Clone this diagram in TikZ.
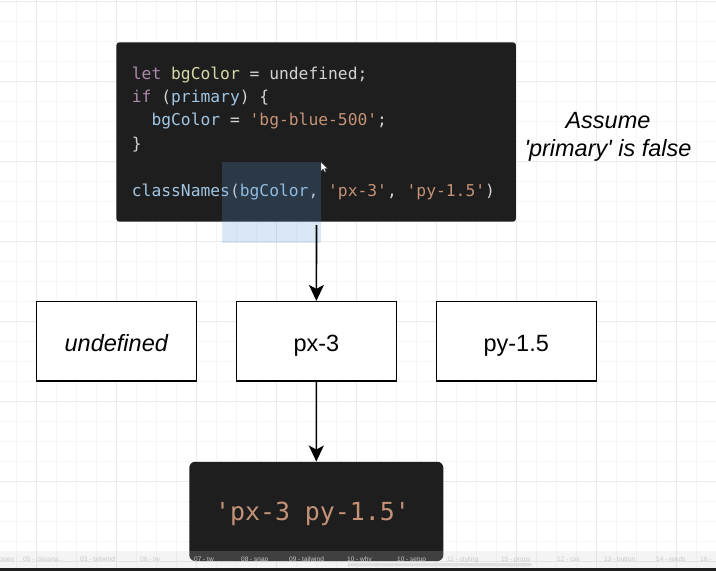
\documentclass[tikz,border=0pt]{standalone}
\usepackage{fontspec}
\setmainfont{Liberation Sans}
\newfontfamily\codefont{DejaVu Sans Mono}
\newfontfamily\lblfont{Liberation Sans}
\usetikzlibrary{arrows.meta}

\definecolor{codebg}{RGB}{30,30,30}
\definecolor{kwcol}{RGB}{172,138,172}
\definecolor{yelcol}{RGB}{215,215,168}
\definecolor{txtcol}{RGB}{210,210,210}
\definecolor{varcol}{RGB}{160,198,228}
\definecolor{strcol}{RGB}{196,146,118}
\definecolor{selcol}{RGB}{90,150,210}
\definecolor{gridminor}{RGB}{246,246,246}
\definecolor{gridmajor}{RGB}{234,234,234}
\definecolor{tabcol}{RGB}{200,200,200}
\definecolor{tabtxt}{RGB}{200,200,200}

\tikzset{
  codebox/.style={fill=codebg, rounded corners=3pt, inner sep=0pt},
  codeline/.style={anchor=base west, inner sep=0pt, text=txtcol,
    font=\codefont\fontsize{16.3}{20}\selectfont},
  valbox/.style={draw=black, line width=1.3pt, fill=white, minimum width=160pt,
    minimum height=79.5pt, inner sep=0pt, text height=24pt, text depth=3pt,
    font=\lblfont\fontsize{23.5}{28}\selectfont},
  resbox/.style={fill=codebg, rounded corners=6pt, minimum width=254pt,
    minimum height=99.3pt, inner sep=0pt, text=strcol, text height=22pt, text depth=3.4pt,
    font=\codefont\fontsize{24.9}{30}\selectfont},
  arr/.style={line width=1.6pt, -{Stealth[length=16pt,width=15pt,inset=4pt]}},
  note/.style={align=center, inner sep=0pt,
    font=\lblfont\itshape\fontsize{23.5}{28}\selectfont},
  tablbl/.style={anchor=base west, inner sep=0pt, text=tabtxt,
    font=\lblfont\fontsize{6.5}{8}\selectfont},
}

\begin{document}
\begin{tikzpicture}[x=1pt,y=-1pt]
\useasboundingbox (0,0) rectangle (716,571);
\fill[white] (0,0) rectangle (716,571);
% grid
\foreach \x in {16.7,36.7,...,716} \draw[gridminor, line width=0.6pt] (\x,0) -- (\x,571);
\foreach \y in {1.7,21.7,...,571} \draw[gridminor, line width=0.6pt] (0,\y) -- (716,\y);
\foreach \x in {36.7,116.7,...,716} \draw[gridmajor, line width=0.6pt] (\x,0) -- (\x,571);
\foreach \y in {1.7,81.7,...,571} \draw[gridmajor, line width=0.6pt] (0,\y) -- (716,\y);

% code block
\node[codebox, minimum width=399.5pt, minimum height=179.4pt] (code) at (316.2,132) {};
\node[codeline] (l1) at (131.7,79) {{\color{kwcol}let} {\color{yelcol}bgColor} = undefined;};
\node[codeline] (l2) at (131.7,102.4) {{\color{kwcol}if} ({\color{varcol}primary}) \{};
\node[codeline] (l3) at (151.3,125.8) {{\color{varcol}bgColor} = {\color{strcol}'bg-blue-500'};};
\node[codeline] (l4) at (131.7,149.2) {\}};
\node[codeline] (l6) at (131.7,196) {{\color{varcol}classNames}({\color{varcol}bgColor}, {\color{strcol}'px-3'}, {\color{strcol}'py-1.5'})};

% selection highlight
\fill[selcol, fill opacity=0.22] (222.3,162.3) rectangle (321,243.3);
% cursor
\draw[fill=white, draw=black!70, line width=0.4pt]
  (321,162) -- (321,171) -- (323.2,169) -- (324.8,172.2) -- (326,171.6)
  -- (324.6,168.6) -- (327.4,168.4) -- cycle;

% note
\node[note] (note) at (608,136.8) {Assume\\'primary' is false};

% value boxes
\node[valbox] (undef) at (116.3,341.3) {\itshape undefined};
\node[valbox] (px) at (316.4,341.3) {px-3};
\node[valbox] (py) at (516.2,341.3) {py-1.5};

% result box
\node[resbox] (res) at (316.3,511.4) {'px-3 py-1.5'\hspace*{7.6pt}};

% connectors
\coordinate (a1) at (316.5,225);
\draw[arr] (a1) -- (px.north);
\draw[arr] (px.south) -- (res.north);

% tab bar
\fill[tabcol, fill opacity=0.2] (0,551) rectangle (716,567.5);
\fill[black!88] (0,568) rectangle (716,571);
\fill[black!12, rounded corners=1.5pt] (347,563.2) rectangle (532,566.4);
\node[tablbl] (t0) at (0.5,561) {sses};
\node[tablbl] (t1) at (23,561) {05 - classna...};
\node[tablbl] (t2) at (80,561) {03 - tailwind};
\node[tablbl] (t3) at (140,561) {06 - tw};
\node[tablbl] (t4) at (194,561) {07 - tw};
\node[tablbl] (t5) at (241,561) {08 - snap};
\node[tablbl] (t6) at (289,561) {09 - tailwind};
\node[tablbl] (t7) at (347,561) {10 - why};
\node[tablbl] (t8) at (397,561) {10 - setup};
\node[tablbl] (t9) at (447,561) {11 - styling};
\node[tablbl] (t10) at (501,561) {15 - props};
\node[tablbl] (t11) at (557,561) {12 - css};
\node[tablbl] (t12) at (604,561) {13 - button};
\node[tablbl] (t13) at (656,561) {14 - reeds};
\node[tablbl] (t14) at (700,561) {16 -};
\end{tikzpicture}
\end{document}
